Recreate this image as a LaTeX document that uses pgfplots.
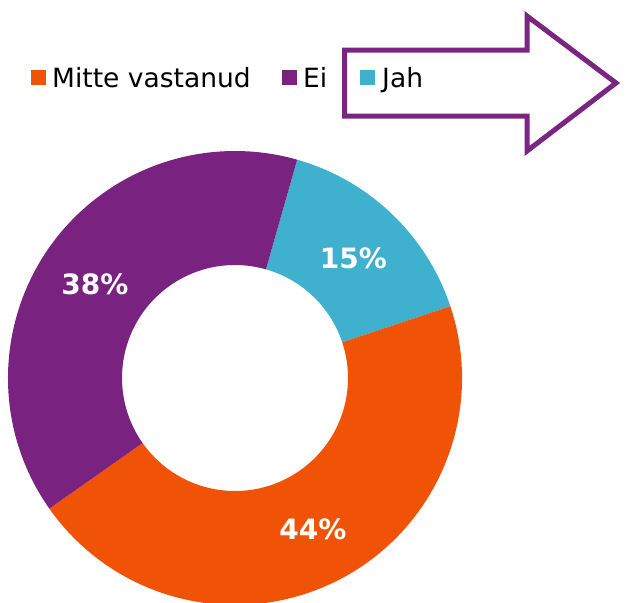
\documentclass[border=0pt]{standalone}
\usepackage{fontspec}
\setmainfont{DejaVu Sans}
\usepackage{pgfplots}
\usepackage{pgfplotstable}
\pgfplotsset{compat=1.18}
\usetikzlibrary{calc}

\definecolor{cMitte}{HTML}{F05305}
\definecolor{cEi}{HTML}{7A2280}
\definecolor{cJah}{HTML}{3FB0CD}
\definecolor{arrowpurple}{HTML}{7B2582}

% answers (counts), clockwise from the top
\pgfplotstableread{
label value
Jah   15
Mitte 44
Ei    38
}\donutdata

\pgfplotstablegetelem{0}{value}\of\donutdata\let\vJah\pgfplotsretval
\pgfplotstablegetelem{1}{value}\of\donutdata\let\vMitte\pgfplotsretval
\pgfplotstablegetelem{2}{value}\of\donutdata\let\vEi\pgfplotsretval
\pgfmathsetmacro\tot{\vJah+\vMitte+\vEi}
\pgfmathsetmacro\aA{74.1}
\pgfmathsetmacro\aB{\aA-360*\vJah/\tot}
\pgfmathsetmacro\aC{\aB-360*\vMitte/\tot}
\pgfmathsetmacro\aD{\aC-360*\vEi/\tot}

% one ring segment: start angle, end angle, colour
\newcommand\ring[3]{%
  \fill[#3] ($(axis cs:235,378)+(#1:227pt)$) arc[start angle=#1,end angle=#2,radius=227pt]
    -- ($(axis cs:235,378)+(#2:113pt)$) arc[start angle=#2,end angle=#1,radius=113pt] -- cycle;}

\begin{document}
\begin{tikzpicture}
\begin{axis}[x=1pt,y=1pt,y dir=reverse,
  xmin=0,xmax=625,ymin=0,ymax=603,
  hide axis,clip=true]
  \ring{\aA}{\aB}{cJah}
  \ring{\aB}{\aC}{cMitte}
  \ring{\aC}{\aD}{cEi}

  % data labels
  \node[anchor=base,inner sep=0,text=white,font=\fontsize{28}{30}\selectfont\bfseries]
    at (axis cs:353.5,268) {15\%};
  \node[anchor=base,inner sep=0,text=white,font=\fontsize{28}{30}\selectfont\bfseries]
    at (axis cs:95,294) {38\%};
  \node[anchor=base,inner sep=0,text=white,font=\fontsize{28}{30}\selectfont\bfseries]
    at (axis cs:313,539) {44\%};

  % legend
  \fill[cMitte] (axis cs:31,70) rectangle (axis cs:46,85);
  \node[anchor=base west,inner sep=0,font=\fontsize{26.5}{30}\selectfont] at (axis cs:52,87) {Mitte vastanud};
  \fill[cEi] (axis cs:282,70) rectangle (axis cs:297,85);
  \node[anchor=base west,inner sep=0,font=\fontsize{26.5}{30}\selectfont] at (axis cs:303,87) {Ei};
  \fill[cJah] (axis cs:360,70) rectangle (axis cs:375,85);
  \node[anchor=base west,inner sep=0,font=\fontsize{26.5}{30}\selectfont] at (axis cs:382,87) {Jah};

  % outlined arrow
  \draw[arrowpurple,line width=5pt,line join=miter]
    (axis cs:344.5,50) -- (axis cs:527,50) -- (axis cs:527,16) -- (axis cs:616,83)
    -- (axis cs:527,151) -- (axis cs:527,116) -- (axis cs:344.5,116) -- cycle;

  \coordinate (bl) at (axis cs:0,603);
  \coordinate (tr) at (axis cs:625,0);
\end{axis}
\pgfresetboundingbox
\path (bl) rectangle (tr);
\end{tikzpicture}
\end{document}
